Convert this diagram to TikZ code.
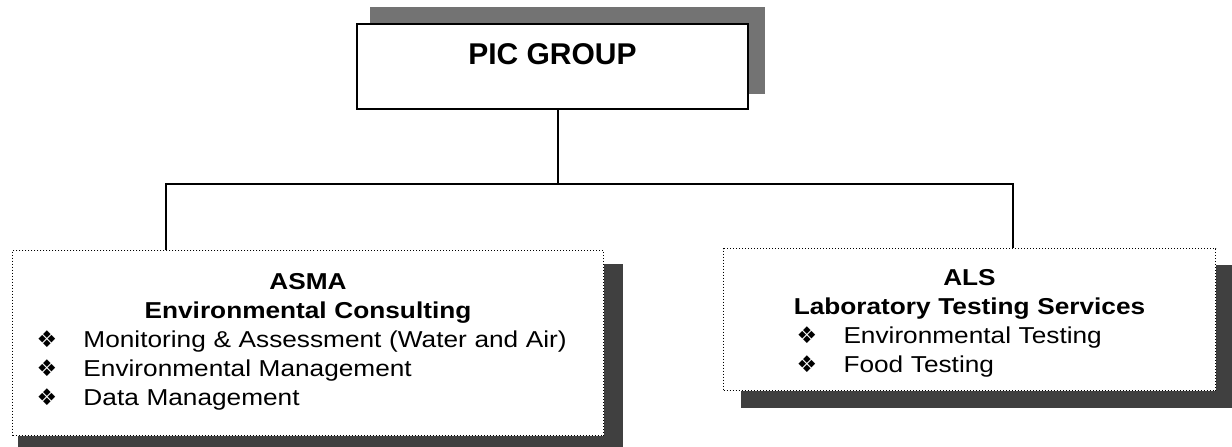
\documentclass[tikz,border=0pt]{standalone}
\usepackage{fontspec}
\setmainfont{Liberation Sans}[FakeStretch=1.14]
\newfontfamily\headfont{Liberation Sans}
\newfontfamily\symfont{DejaVu Sans}
\usetikzlibrary{calc, positioning, backgrounds}
\tikzset{
    headbox/.style={draw, line width=1pt, fill=white, inner sep=0pt, anchor=north west, align=center, font=\headfont\bfseries\fontsize{15}{18}\selectfont},
    orgbox/.style={draw, densely dotted, line width=0.5pt, fill=white, inner sep=0pt, anchor=north west, align=center, font=\fontsize{11.5}{14.5}\selectfont},
    shade/.style={fill=black!75},
    link/.style={line width=1pt}
}
\newcommand{\bitem}[4]{\makebox[#1][l]{\hspace*{#2}\makebox[#3][l]{{\symfont ❖}}#4}}

\begin{document}
\begin{tikzpicture}[x=0.5pt, y=-0.5pt]
        \useasboundingbox (0,0) rectangle (1232,446);
        \node [headbox, minimum width=195.5pt, text height=20pt, text depth=22.5pt] (pic) at (356,23) {PIC GROUP};
        \node [orgbox, text width=295.5pt, text height=19.25pt, text depth=73.25pt] (asma) at (12,250) {\textbf{ASMA}\\
            \textbf{Environmental Consulting}\\
            \bitem{295.5pt}{12pt}{23.5pt}{Monitoring \& Assessment (Water and Air)}\\
            \bitem{295.5pt}{12pt}{23.5pt}{Environmental Management}\\
            \bitem{295.5pt}{12pt}{23.5pt}{Data Management}};
        \node [orgbox, text width=246pt, text height=18.5pt, text depth=52.5pt] (alsb) at (723,248) {\textbf{ALS}\\
            \textbf{Laboratory Testing Services}\\
            \bitem{246pt}{36.5pt}{23.5pt}{Environmental Testing}\\
            \bitem{246pt}{36.5pt}{23.5pt}{Food Testing}};
        \begin{scope}[on background layer]
            \fill [shade, black!55] ($(pic.north west)+(14,-16)$) rectangle ($(pic.south east)+(16,-16)$);
            \fill [shade] ($(asma.north west)+(6,14)$) rectangle ($(asma.south east)+(19,11)$);
            \fill [shade] ($(alsb.north west)+(18,17)$) rectangle ($(alsb.south east)+(17,17)$);
        \end{scope}
        \coordinate (drop) at ($(pic.south)+(5.5,0)$);
        \coordinate (busl) at ($(asma.north west)+(154,-66)$);
        \coordinate (busr) at ($(alsb.north west)+(290,-64)$);
        \draw [link] (drop) -- (drop |- busl);
        \draw [link] (asma.north -| busl) |- (busr) -- (busr |- alsb.north);
    \end{tikzpicture}
\end{document}
